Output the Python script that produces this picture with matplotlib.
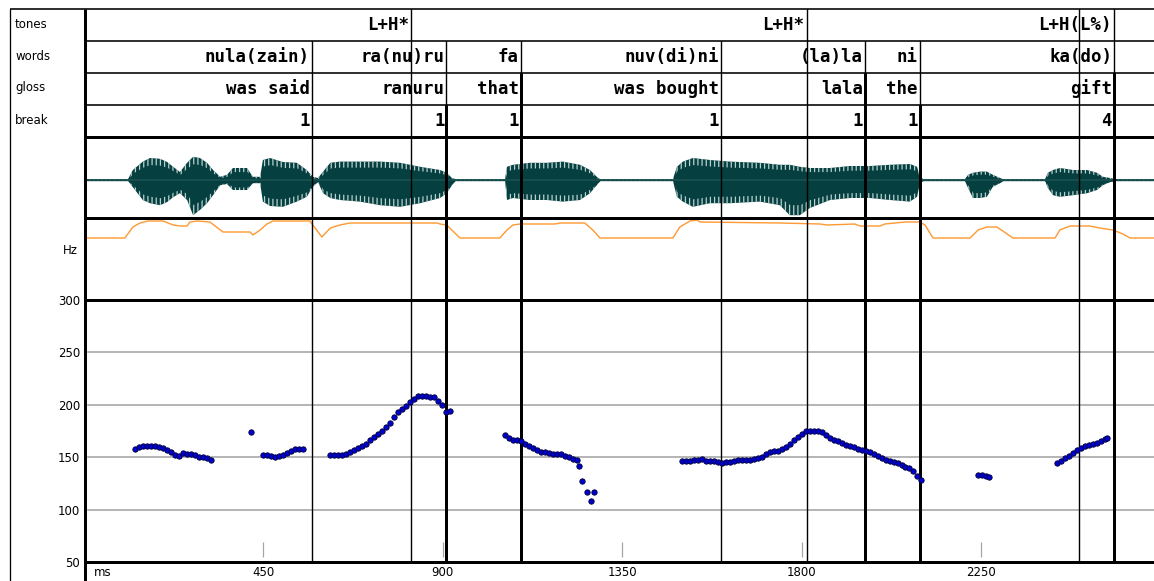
import matplotlib
matplotlib.use("Agg")
import matplotlib.pyplot as plt
from matplotlib.lines import Line2D
import numpy as np

W, H = 1154, 581          # output size in pixels
PT = 0.72                 # points per pixel at 100 dpi

# time range shown by the data panels (ms)
X0_MS, X1_MS = 3, 2683

# -------------------------------------------------
# ---------------- annotation tiers ---------------
# -------------------------------------------------
tier_names = ["tones", "words", "gloss", "break"]

tone_ms = [820, 1812, 2583]
tone_lab = ["L+H*", "L+H*", "L+H(L%)"]

word_ms = [572, 909, 1096, 1597, 1958, 2096, 2583]
word_lab = ["nula(zain)", "ra(nu)ru", "fa", "nuv(di)ni", "(la)la", "ni", "ka(do)"]
gloss_lab = ["was said", "ranuru", "that", "was bought", "lala", "the", "gift"]
break_lab = ["1", "1", "1", "1", "1", "1", "4"]

# label boundaries: time, first tier row crossed, row from which the line is heavy
bound_ms = [572, 820, 909, 1096, 1597, 1812, 1958, 2096, 2495, 2583]
bound_top = [1, 0, 1, 1, 1, 0, 1, 1, 0, 0]
bound_heavy = [None, None, 3, 2, None, None, 2, 3, None, 2]

# -------------------------------------------------
# ------------------ waveform ---------------------
# -------------------------------------------------
wave_ms = [5, 111, 123, 148, 166, 191, 209, 224, 241, 259, 274, 291, 309, 324,
           342, 359, 374, 409, 424, 442, 449, 467, 499, 534, 559, 574, 587, 600,
           618, 642, 692, 743, 793, 843, 893, 910, 923, 931, 1056, 1061, 1076,
           1118, 1161, 1201, 1244, 1269, 1286, 1294, 1477, 1487, 1502, 1527,
           1570, 1620, 1695, 1745, 1770, 1795, 1820, 1871, 1921, 1971, 2021,
           2071, 2089, 2096, 2104, 2209, 2217, 2229, 2247, 2264, 2279, 2297,
           2304, 2410, 2417, 2430, 2447, 2480, 2515, 2540, 2555, 2573, 2585, 2683]
wave_top = [0.025, 0.025, 0.25, 0.46, 0.55, 0.53, 0.45, 0.33, 0.2, 0.43, 0.58,
            0.55, 0.43, 0.25, 0.08, 0.13, 0.3, 0.3, 0.08, 0.08, 0.5, 0.55, 0.45,
            0.43, 0.25, 0.08, 0.05, 0.21, 0.43, 0.46, 0.46, 0.46, 0.43, 0.33,
            0.25, 0.18, 0.05, 0.025, 0.025, 0.33, 0.38, 0.43, 0.43, 0.46, 0.38,
            0.25, 0.08, 0.025, 0.025, 0.33, 0.46, 0.55, 0.5, 0.46, 0.43, 0.38,
            0.38, 0.33, 0.3, 0.3, 0.35, 0.35, 0.38, 0.4, 0.33, 0.08, 0.025,
            0.025, 0.13, 0.18, 0.21, 0.21, 0.13, 0.05, 0.025, 0.025, 0.18, 0.25,
            0.3, 0.25, 0.25, 0.18, 0.08, 0.05, 0.025, 0.025]
wave_bot = [0.025, 0.025, 0.18, 0.5, 0.58, 0.63, 0.55, 0.43, 0.33, 0.5, 0.88,
            0.75, 0.58, 0.38, 0.13, 0.1, 0.25, 0.25, 0.08, 0.08, 0.54, 0.65,
            0.67, 0.54, 0.42, 0.17, 0.05, 0.33, 0.45, 0.5, 0.54, 0.63, 0.67,
            0.58, 0.45, 0.33, 0.13, 0.025, 0.025, 0.5, 0.45, 0.5, 0.5, 0.54,
            0.5, 0.33, 0.13, 0.025, 0.025, 0.42, 0.54, 0.67, 0.58, 0.58, 0.54,
            0.63, 0.88, 0.88, 0.7, 0.5, 0.45, 0.45, 0.5, 0.54, 0.42, 0.08,
            0.025, 0.025, 0.2, 0.45, 0.45, 0.42, 0.17, 0.08, 0.025, 0.025, 0.2,
            0.38, 0.42, 0.38, 0.33, 0.25, 0.13, 0.05, 0.025, 0.025]

# -------------------------------------------------
# ------------------ energy track -----------------
# -------------------------------------------------
energy_ms = [5, 5, 103, 123, 141, 161, 199, 224, 241, 259, 266, 284, 316, 349,
             417, 424, 442, 459, 474, 567, 574, 597, 618, 642, 667, 743, 886,
             893, 910, 943, 1043, 1061, 1076, 1094, 1181, 1194, 1256, 1276,
             1294, 1477, 1494, 1520, 1537, 1545, 1745, 1846, 1863, 1933, 1946,
             1996, 2008, 2059, 2096, 2109, 2129, 2222, 2242, 2264, 2289, 2304,
             2329, 2435, 2447, 2472, 2522, 2547, 2580, 2605, 2623, 2683]
energy_val = [0, 62, 62, 73, 77, 79, 79, 75, 74, 74, 78, 79, 78, 68, 68, 65, 70,
              76, 79, 79, 75, 63, 72, 75, 77, 77, 77, 76, 75, 62, 62, 70, 75,
              76, 76, 77, 77, 70, 62, 62, 73, 79, 80, 78, 77, 76, 75, 76, 74,
              74, 76, 78, 78, 75, 62, 62, 70, 73, 73, 69, 62, 62, 70, 74, 74,
              72, 70, 66, 62, 62]

# -------------------------------------------------
# ------------------ pitch track ------------------
# -------------------------------------------------
seg_a_ms = [128, 138, 148, 158, 168, 178, 188, 198, 208, 218, 228, 238, 248,
            258, 268, 278, 288, 298, 308, 318]
seg_a_hz = [158, 160, 161, 161, 161, 161, 160, 159, 157, 155, 152, 151, 154,
            153, 153, 152, 150, 150, 149, 147]
seg_o_ms = [419]
seg_o_hz = [174]
seg_b_ms = [449, 459, 469, 479, 489, 499, 509, 519, 529, 539, 549]
seg_b_hz = [152, 152, 151, 150, 151, 152, 154, 156, 158, 158, 158]
seg_c_ms = [618, 628, 638, 648, 658, 668, 678, 688, 698, 708, 718, 728, 738,
            748, 758, 768, 778, 788, 798, 808, 818, 828, 838, 848, 858, 868,
            878, 888, 898, 908, 918]
seg_c_hz = [152, 152, 152, 152, 153, 155, 157, 159, 161, 163, 166, 169, 172,
            175, 179, 183, 188, 193, 196, 199, 203, 206, 208, 208, 208, 207,
            207, 204, 200, 193, 194]
seg_d_ms = [1056, 1066, 1076, 1086, 1096, 1106, 1116, 1126, 1136, 1146, 1156,
            1166, 1176, 1186, 1196, 1206, 1216, 1226, 1236, 1242, 1248, 1261,
            1271, 1279]
seg_d_hz = [171, 168, 166, 166, 165, 163, 161, 159, 157, 155, 155, 154, 153,
            153, 153, 151, 150, 148, 147, 142, 127, 117, 108, 117]
seg_e_ms = list(range(1500, 2101, 10))
seg_e_hz = [146, 146, 146, 147, 147, 148, 146, 146, 146, 145,
            144, 145, 145, 146, 147, 147, 147, 147, 148, 149,
            150, 153, 155, 156, 156, 158, 160, 163, 166, 169,
            172, 175, 175, 175, 175, 174, 171, 168, 166, 165,
            164, 162, 161, 160, 158, 157, 156, 155, 153, 151,
            149, 147, 146, 145, 144, 143, 141, 140, 137, 132,
            128]
seg_f_ms = [2242, 2252, 2262, 2270]
seg_f_hz = [133, 133, 132, 131]
seg_g_ms = [2440, 2450, 2460, 2470, 2480, 2490, 2500, 2510, 2520, 2530, 2540,
            2550, 2560, 2565]
seg_g_hz = [144, 146, 149, 151, 154, 157, 159, 161, 162, 163, 164, 165, 167, 168]

hz_ticks = [50, 100, 150, 200, 250, 300]
ms_ticks = [450, 900, 1350, 1800, 2250]

# -------------------------------------------------
# ------------------- PLOTTING --------------------
# -------------------------------------------------
plt.rcParams["hatch.linewidth"] = 0.9
fig = plt.figure(figsize=(W / 100, H / 100), dpi=100)
fig.patch.set_facecolor("white")


def rect(x0, y0, x1, y1):
    return [x0 / W, 1 - y1 / H, (x1 - x0) / W, (y1 - y0) / H]


def fig_line(x0, y0, x1, y1, lw_px):
    fig.add_artist(Line2D([x0 / W, x1 / W], [1 - y0 / H, 1 - y1 / H],
                          transform=fig.transFigure, color="black",
                          lw=lw_px * PT, solid_capstyle="butt"))


def bare(ax):
    ax.set_xlim(X0_MS, X1_MS)
    ax.set_xticks([])
    ax.set_yticks([])
    for s in ax.spines.values():
        s.set_visible(False)
    ax.patch.set_alpha(0)


row_y = [9, 41, 73, 105, 137]
tier_axes = []
for i in range(4):
    ax = fig.add_axes(rect(85, row_y[i], W, row_y[i + 1]))
    bare(ax)
    ax.set_ylim(0, 1)
    tier_axes.append(ax)

ax_w = fig.add_axes(rect(85, 137, W, 218))
bare(ax_w)
ax_w.set_ylim(-0.95, 1.075)

ax_e = fig.add_axes(rect(85, 218, W, 300))
bare(ax_e)
ax_e.set_ylim(0, 82)

ax_p = fig.add_axes(rect(85, 300, W, 562))
bare(ax_p)
ax_p.set_ylim(50, 300)

# tier labels
mono = dict(family="DejaVu Sans Mono", fontweight="bold", fontsize=12.5, color="black")
tier_data = [(tone_ms, tone_lab), (word_ms, word_lab), (word_ms, gloss_lab),
             (word_ms, break_lab)]
for ax, (times, labels) in zip(tier_axes, tier_data):
    for t, lab in zip(times, labels):
        ax.annotate(lab, (t, 0.5), xycoords=("data", "axes fraction"),
                    xytext=(-2, 0), textcoords="offset pixels",
                    ha="right", va="center", **mono)

# boundary lines through tiers and panels
panels = [ax_w, ax_e, ax_p]
for t, top, heavy in zip(bound_ms, bound_top, bound_heavy):
    for r in range(top, 4):
        lw = 3 if (heavy is not None and r >= heavy) else 1.4
        tier_axes[r].axvline(t, color="black", lw=lw * PT, zorder=3)
    lw = 3 if heavy is not None else 1.4
    for ax in panels:
        ax.axvline(t, color="black", lw=lw * PT, zorder=3)

# waveform: speckled outer envelope, solid core
wave_col = "#053f3f"
ax_w.fill_between(wave_ms, wave_top, -np.array(wave_bot), facecolor=wave_col,
                  edgecolor="#b9d0d0", hatch="||||", lw=0, zorder=2)
ax_w.fill_between(wave_ms, 0.7 * np.array(wave_top), -0.7 * np.array(wave_bot),
                  color=wave_col, lw=0, zorder=2.5)
ax_w.axhline(0, color="#1f5252", lw=1.6 * PT, zorder=2.6)

# energy track
ax_e.plot(energy_ms, energy_val, color="#ff9933", lw=1.4 * PT, zorder=2)

# pitch grid, ticks and dots
for hz in hz_ticks[1:-1]:
    ax_p.axhline(hz, xmin=0.003, color="#a4a4a4", lw=1.6 * PT, zorder=1)
ax_p.vlines(ms_ticks, 0.019, 0.076, transform=ax_p.get_xaxis_transform(),
            colors="#a4a4a4", lw=1.2 * PT, zorder=1)

pitch_ms = seg_a_ms + seg_o_ms + seg_b_ms + seg_c_ms + seg_d_ms + seg_e_ms + seg_f_ms + seg_g_ms
pitch_hz = seg_a_hz + seg_o_hz + seg_b_hz + seg_c_hz + seg_d_hz + seg_e_hz + seg_f_hz + seg_g_hz
ax_p.scatter(pitch_ms, pitch_hz, s=15, color="#0000d0", edgecolors="#000033",
             linewidths=0.6, zorder=4, clip_on=False)

ax_p.set_yticks(hz_ticks)
ax_p.set_yticklabels([str(v) for v in hz_ticks])
ax_p.set_xticks(ms_ticks)
ax_p.set_xticklabels([str(v) for v in ms_ticks])
ax_p.tick_params(axis="both", length=0, labelsize=8.5)
ax_p.tick_params(axis="y", pad=3.6)
ax_p.tick_params(axis="x", pad=3.2)

# left column captions
for name, y in zip(tier_names, [24, 56, 88, 120]):
    fig.text(15 / W, 1 - y / H, name, fontsize=8.5, ha="left", va="center",
             family="DejaVu Sans")
fig.text(78 / W, 1 - 250 / H, "Hz", fontsize=8.5, ha="right", va="center")
fig.text(94 / W, 1 - 573 / H, "ms", fontsize=8.5, ha="left", va="center")

# frame
fig_line(10, 9, W, 9, 1.6)
fig_line(10, 9, 10, H, 1.3)
fig_line(84.5, 9, 84.5, H, 3)
for y in [41, 73, 105]:
    fig_line(85, y, W, y, 1.6)
for y in [137, 218, 300, 562]:
    fig_line(85, y, W, y, 3)

fig.savefig("out.png", dpi=100)
